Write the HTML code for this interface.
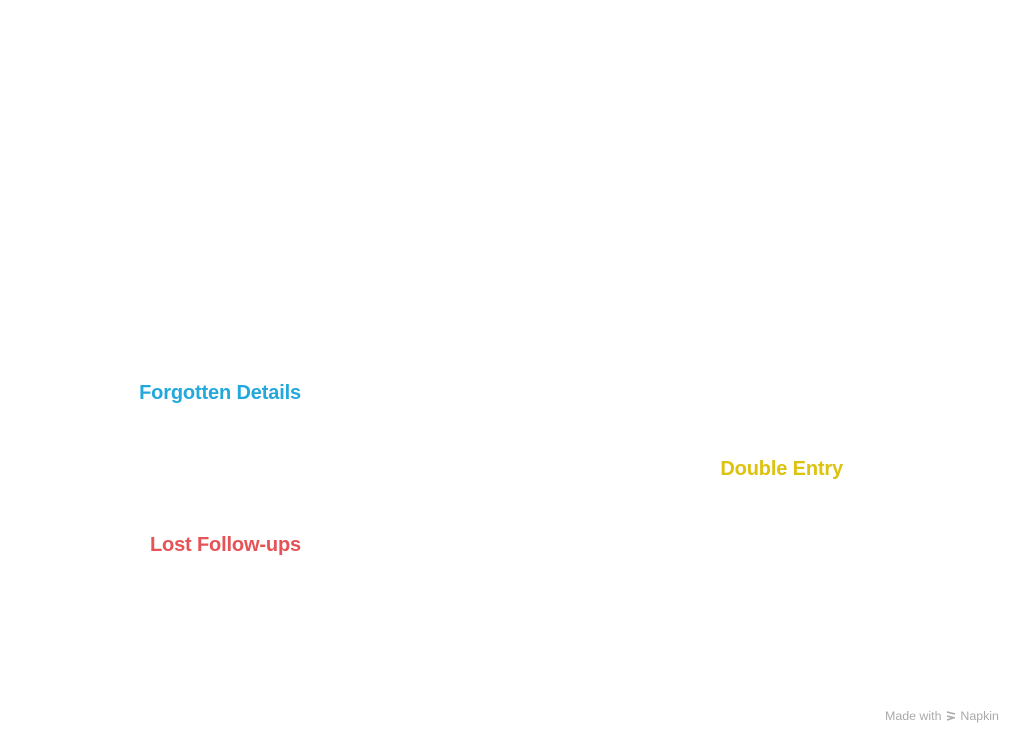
<!DOCTYPE html>
<html><head><meta charset="utf-8"><style>
html,body{margin:0;padding:0;background:#fff;}
body{width:1024px;height:746px;position:relative;overflow:hidden;font-family:"Liberation Sans",sans-serif;}
.l{position:absolute;font-weight:bold;font-size:20px;line-height:24px;white-space:nowrap;text-align:right;letter-spacing:-0.15px;}
</style></head><body>
<div class="l" style="right:723px;top:381px;color:#23a8dc;">Forgotten Details</div>
<div class="l" style="right:723px;top:533px;color:#e65256;">Lost Follow-ups</div>
<div class="l" style="right:181px;top:457px;color:#ddc20e;">Double Entry</div>
<div style="position:absolute;left:885px;top:709px;font-size:12.4px;color:#aaa;white-space:nowrap;">Made with <svg width="12" height="12" viewBox="0 0 12 12" style="vertical-align:-2px"><path d="M2 2l8 2M2 6l8 2M2 10l6-2" stroke="#aaa" stroke-width="1.5" fill="none"/></svg> Napkin</div>
</body></html>
